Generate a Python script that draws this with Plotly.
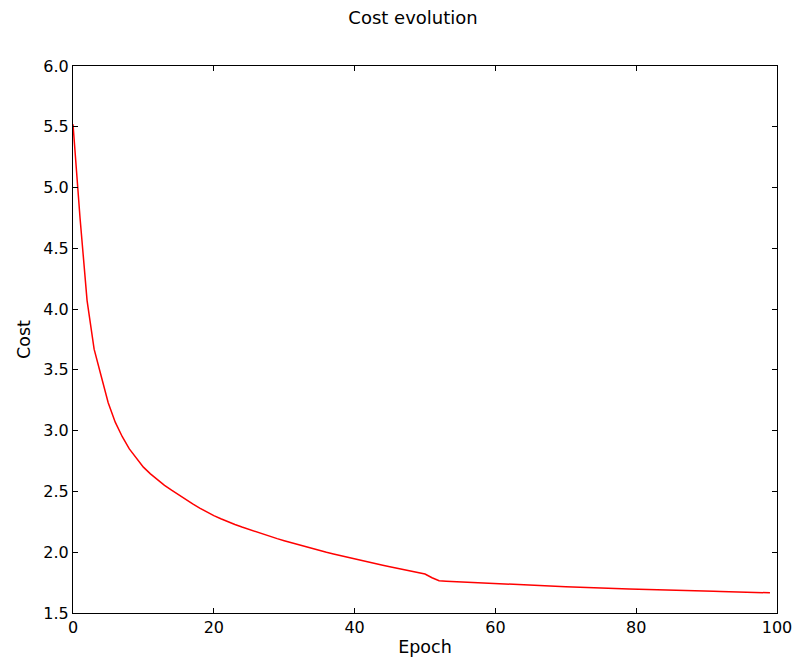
import plotly.graph_objects as go

epochs = list(range(100))
cost = [
    5.52, 4.75, 4.07, 3.67, 3.45, 3.23, 3.07, 2.95, 2.85, 2.77,
    2.70, 2.645, 2.595, 2.55, 2.51, 2.47, 2.433, 2.397, 2.363, 2.331,
    2.301, 2.275, 2.25, 2.228, 2.207, 2.187, 2.168, 2.149, 2.13, 2.112,
    2.095, 2.078, 2.061, 2.045, 2.029, 2.014, 1.999, 1.985, 1.971, 1.957,
    1.944, 1.931, 1.918, 1.905, 1.893, 1.881, 1.869, 1.857, 1.845, 1.833,
    1.821, 1.79, 1.765, 1.762, 1.759, 1.756, 1.753, 1.750, 1.747, 1.744,
    1.741, 1.738, 1.736, 1.733, 1.731, 1.729, 1.726, 1.724, 1.721, 1.719,
    1.716, 1.714, 1.711, 1.709, 1.707, 1.705, 1.703, 1.701, 1.699, 1.697,
    1.695, 1.693, 1.692, 1.690, 1.689, 1.687, 1.686, 1.684, 1.683, 1.681,
    1.680, 1.678, 1.677, 1.675, 1.674, 1.672, 1.671, 1.669, 1.668, 1.666,
]
x_ticks = [0, 20, 40, 60, 80, 100]
y_ticks = [1.5, 2.0, 2.5, 3.0, 3.5, 4.0, 4.5, 5.0, 5.5, 6.0]

fig = go.Figure()
fig.add_trace(go.Scatter(x=epochs, y=cost, mode="lines",
                         line=dict(color="#ff0000", width=1.5)))

axis_common = dict(showline=True, linecolor="black", linewidth=1.2,
                   mirror="ticks", ticks="inside", ticklen=5, tickwidth=1,
                   tickcolor="black", showgrid=False, zeroline=False,
                   automargin=False,
                   tickfont=dict(family="DejaVu Sans", size=16, color="black"))

fig.update_layout(
    width=798, height=668,
    margin=dict(l=73, r=21, t=66, b=55, autoexpand=False),
    paper_bgcolor="white", plot_bgcolor="white",
    showlegend=False,
    font=dict(family="DejaVu Sans", color="black"),
    title=dict(text="Cost evolution", x=413 / 798, xanchor="center",
               y=1 - 18 / 668, yanchor="middle",
               font=dict(family="DejaVu Sans", size=18, color="black")),
    xaxis=dict(range=[0, 100], tickvals=x_ticks, title=dict(text="Epoch", standoff=4,
               font=dict(family="DejaVu Sans", size=17.5)), **axis_common),
    yaxis=dict(range=[1.5, 6.0], tickvals=y_ticks, tickformat=".1f",
               title=dict(text="Cost", standoff=8, font=dict(family="DejaVu Sans", size=17.5)),
               **axis_common),
)

fig.write_html("out.html")
